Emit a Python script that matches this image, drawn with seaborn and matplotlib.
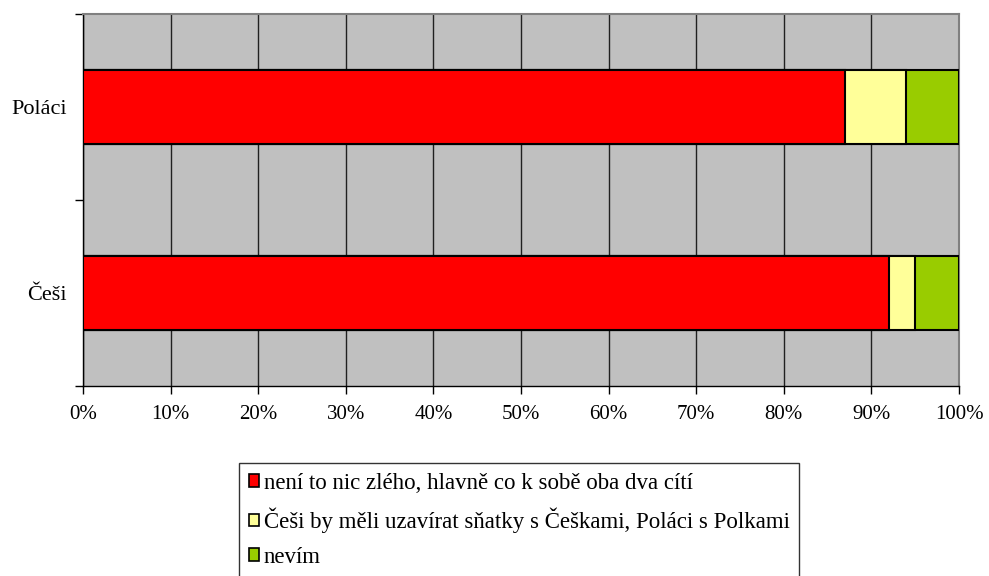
import matplotlib
matplotlib.use('Agg')
import matplotlib.pyplot as plt
from matplotlib.patches import Patch
import pandas as pd
import seaborn as sns

groups = ['Poláci', 'Češi']
answers = ['není to nic zlého, hlavně co k sobě oba dva cítí',
           'Češi by měli uzavírat sňatky s Češkami, Poláci s Polkami',
           'nevím']
nothing_wrong = [87, 92]
same_nation = [7, 3]
dont_know = [6, 5]
colors = ['#ff0000', '#ffff99', '#99cc00']
xticks = [0, 10, 20, 30, 40, 50, 60, 70, 80, 90, 100]


def build_frame() -> pd.DataFrame:
    df = pd.DataFrame({'group': groups,
                       'a': nothing_wrong,
                       'b': same_nation,
                       'c': dont_know})
    # cumulative ends for stacking
    df['end_a'] = df['a']
    df['end_b'] = df['a'] + df['b']
    df['end_c'] = df['a'] + df['b'] + df['c']
    return df


def plot(df: pd.DataFrame) -> None:
    sns.set_style(style='ticks')
    plt.rcParams['font.family'] = ['Liberation Serif', 'DejaVu Serif']
    plt.rcParams['font.size'] = 15
    plt.rcParams['text.color'] = 'black'
    plt.rcParams['xtick.labelcolor'] = 'black'
    plt.rcParams['ytick.labelcolor'] = 'black'

    fig = plt.figure(figsize=(9.89, 5.76), dpi=100)
    ax = fig.add_axes([83 / 989, (576 - 386) / 576, 876 / 989, 372 / 576])
    ax.set_facecolor('#c0c0c0')

    # draw widest first so narrower segments sit on top
    for col, color in zip(['end_c', 'end_b', 'end_a'], colors[::-1]):
        sns.barplot(data=df, x=col, y='group', order=groups, orient='h',
                    color=color, width=0.4, edgecolor='black', linewidth=1.5,
                    saturation=1, ax=ax, zorder=3)

    ax.set_xlim(0, 100)
    ax.set_ylim(1.5, -0.5)
    ax.set_xticks(xticks)
    ax.set_xticklabels([f'{t}%' for t in xticks])
    ax.set_yticks([-0.5, 0.5, 1.5], minor=False)
    ax.set_yticklabels(['', '', ''])
    ax.set_yticks([0, 1], minor=True)
    ax.set_yticklabels(groups, minor=True)
    ax.tick_params(axis='y', which='minor', length=0, pad=11.5,
                   labelsize=16, labelcolor='black')
    ax.tick_params(axis='y', which='major', length=6, width=1, color='black')
    ax.tick_params(axis='x', length=6, width=1, color='black', pad=8,
                   labelsize=15, labelcolor='black')
    ax.set_xlabel('')
    ax.set_ylabel('')
    ax.grid(axis='x', color='#202020', linewidth=1, zorder=1)
    ax.set_axisbelow(True)

    for side in ['top', 'right']:
        ax.spines[side].set_color('#808080')
        ax.spines[side].set_linewidth(1.5)
    for side in ['left', 'bottom']:
        ax.spines[side].set_color('black')
        ax.spines[side].set_linewidth(1)

    handles = [Patch(facecolor=c, edgecolor='black', linewidth=1.2) for c in colors]
    leg = fig.legend(handles=handles, labels=answers, loc='upper left',
                     bbox_to_anchor=(239 / 989, 1 - 463 / 576),
                     frameon=True, fancybox=False, edgecolor='black',
                     handlelength=0.45, handleheight=0.45, handletextpad=0.2,
                     labelspacing=0.6, borderpad=0.42, borderaxespad=0,
                     fontsize=16.5, labelcolor='black')
    leg.get_frame().set_linewidth(1)

    fig.savefig('out.png', dpi=100)
    plt.close(fig)


if __name__ == '__main__':
    plot(build_frame())
